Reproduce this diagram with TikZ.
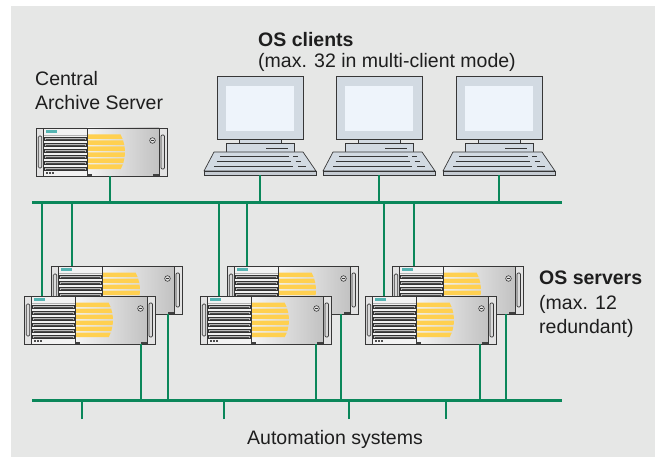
\documentclass[tikz,border=0pt]{standalone}
\usepackage{fontspec}
\setmainfont{Liberation Sans}
\definecolor{panel}{RGB}{230,231,230}
\definecolor{lan}{RGB}{10,135,90}
\definecolor{edge}{RGB}{55,55,55}
\definecolor{yel}{RGB}{255,208,80}
\definecolor{tagcol}{RGB}{85,180,178}
\definecolor{bezel}{RGB}{210,218,226}
\definecolor{screen}{RGB}{238,244,251}
\definecolor{txt}{RGB}{30,30,30}

\tikzset{
  lanbus/.style={lan, line width=3pt},
  lanlink/.style={lan, line width=1.8pt},
  hw/.style={draw=edge, line width=0.7pt},
  lbl/.style={inner sep=0pt, text=txt, font=\fontsize{19.5}{24}\selectfont},
  lblb/.style={inner sep=0pt, text=txt, font=\fontsize{19.5}{24}\selectfont\bfseries},
  % rack PC, 131 x 48, origin at top left; #1/#2 = x of top and bottom LAN port
  pics/server/.style 2 args={code={
    \fill[gray!22] (0,0) rectangle (131,48);
    \shade[left color=gray!8, right color=gray!48] (51,0) rectangle (123,48);
    \fill[gray!10] (7,0) rectangle (51,48);
    % yellow front stripes
    \foreach \y in {6.5,12.5,18.5,24.5,30.5,36.5}{
      \pgfmathsetmacro\ya{\y+4.7}
      \pgfmathsetmacro\ea{52+sqrt(1369-(\y-24)*(\y-24))}
      \pgfmathsetmacro\eb{52+sqrt(1369-(\ya-24)*(\ya-24))}
      \fill[yel] (51.5,\y) -- (\ea,\y) -- (\eb,\ya) -- (51.5,\ya) -- cycle;
    }
    % drive bays
    \foreach \y in {9.5,15.5,21.5,27.5,33.5,39.5}{
      \filldraw[fill=gray!55, draw=black!80, line width=0.45pt] (8.5,\y) rectangle (50,\y+3);
      \draw[black!70, line width=0.6pt] (10,\y+1.5) -- (48.5,\y+1.5);
    }
    \draw[gray!60, line width=0.4pt] (7,7.5) -- (51,7.5);
    \fill[tagcol] (10,2.3) rectangle (20.5,5);
    \foreach \x in {10,13,16} \fill[black!70] (\x,44.3) rectangle (\x+1.5,46.2);
    % frame and dividers
    \draw[hw] (0,0) rectangle (131,48);
    \draw[edge, line width=0.5pt] (7,0) -- (7,48) (51,0) -- (51,48) (123,0) -- (123,48);
    % handles
    \filldraw[fill=gray!30, hw, rounded corners=1.2pt] (2.3,8) rectangle (5.8,40);
    \filldraw[fill=gray!30, hw, rounded corners=1.2pt] (125,7) rectangle (128.5,41);
    % lock
    \filldraw[fill=gray!25, draw=edge, line width=0.6pt] (116.5,12.5) circle[radius=2.8pt];
    \draw[edge, line width=0.5pt] (115,12.5) -- (118,12.5);
    % feet
    \fill[black!75] (51,45.8) rectangle (56,48);
    \fill[black!75] (117,45.8) rectangle (123,48);
    \coordinate (-top) at (#1,0);
    \coordinate (-bot) at (#2,48);
  }},
  % client PC with monitor and keyboard, origin at top left of the monitor
  pics/client/.style={code={
    \filldraw[fill=bezel, hw] (0,0) rectangle (86,63);
    \fill[screen] (9,10) rectangle (77,55);
    \filldraw[fill=bezel, hw] (22,63) rectangle (64,67);
    \filldraw[fill=bezel, hw] (9,67) rectangle (77,76);
    \draw[edge, line width=0.8pt] (49,72) -- (71,72);
    \filldraw[fill=bezel, hw, line join=round] (-3,76) -- (86,76) -- (99,95) -- (-13,95) -- cycle;
    \filldraw[fill=bezel!85!gray, hw] (-13,95) rectangle (99,99);
    \draw[edge, line width=0.8pt]
      (3,80.5) -- (72,80.5) (76,80.5) -- (81,80.5)
      (-0.5,85.3) -- (74,85.3) (78.5,85.3) -- (84,85.3)
      (-3,90) -- (76,90) (81,90) -- (89,90);
    \coordinate (-port) at (43,99);
  }}
}

\begin{document}
\begin{tikzpicture}[x=1pt, y=-1pt]
  \useasboundingbox (0,0) rectangle (655,457);
  \fill[panel] (11,6) rectangle (655,457);

  % terminal bus and plant bus
  \coordinate (lanA-w) at (32,202);
  \coordinate (lanA-e) at (562,202);
  \coordinate (lanB-w) at (32,400);
  \coordinate (lanB-e) at (562,400);

  % archive server and clients
  \pic (cas) at (36,128) {server={20}{74}};
  \pic (c1) at (217,76) {client};
  \pic (c2) at (336,76) {client};
  \pic (c3) at (456,76) {client};

  \foreach \p in {cas-bot, c1-port, c2-port, c3-port}
    \draw[lanlink] (\p) -- (\p |- lanA-w);

  % automation system drops
  \coordinate (as1) at (82,419);
  \coordinate (as2) at (224,419);
  \coordinate (as3) at (349,419);
  \coordinate (as4) at (446,419);
  \foreach \p in {as1, as2, as3, as4}
    \draw[lanlink] (\p) -- (\p |- lanB-w);

  % redundant server pairs (back unit first)
  \pic (b1) at (51,266) {server={21}{117}};
  \pic (f1) at (24,296) {server={18}{117}};
  \pic (b2) at (227,266) {server={20}{114}};
  \pic (f2) at (200,296) {server={19}{116}};
  \pic (b3) at (392,266) {server={22}{114}};
  \pic (f3) at (365,296) {server={19}{115}};

  \foreach \s in {b1,f1,b2,f2,b3,f3}{
    \draw[lanlink] (\s-top) -- (\s-top |- lanA-w);
    \draw[lanlink] (\s-bot) -- (\s-bot |- lanB-w);
  }
  \draw[lanbus] (lanA-w) -- (lanA-e);
  \draw[lanbus] (lanB-w) -- (lanB-e);

  % labels
  \node[lbl, anchor=base west] (casl1) at (35,86) {Central};
  \node[lbl, anchor=base west] (casl2) at (35,110) {Archive Server};
  \node[lblb, anchor=base west] (cl1) at (258,47) {OS clients};
  \node[lbl, anchor=base west] (cl2) at (258,68) {(max. 32 in multi-client mode)};
  \node[lblb, anchor=base west] (sv1) at (539,284) {OS servers};
  \node[lbl, anchor=base west] (sv2) at (539,309) {(max. 12};
  \node[lbl, anchor=base west] (sv3) at (539,333) {redundant)};
  \node[lbl, anchor=base] (asl) at (335,444) {Automation systems};
\end{tikzpicture}
\end{document}
